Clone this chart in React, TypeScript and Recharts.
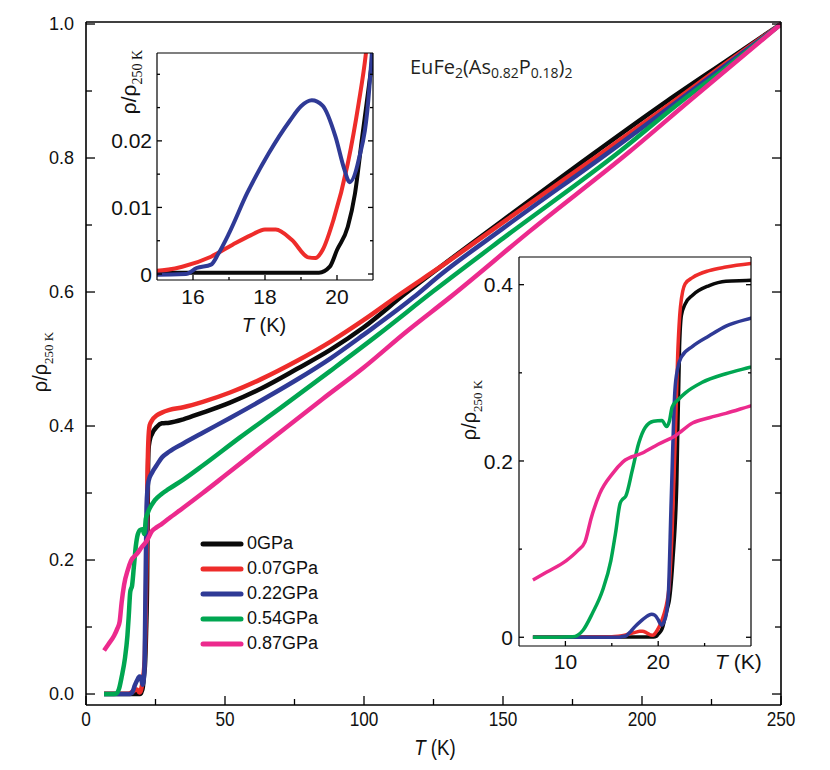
import { LineChart, Line, XAxis, YAxis, Legend } from 'recharts';

type Pt = [number, number];
type Side = 'left' | 'right' | 'top' | 'bottom';

// T (K), rho / rho(250 K)
const gpa0: Pt[] = [
  [6.5, 0.0002], [10, 0.0002], [15, 0.0002], [17, 0.0002], [19.5, 0.0002], [19.8, 0.0011],
  [20.0, 0.0036], [20.3, 0.0071], [20.5, 0.0121], [20.7, 0.0206], [21.0, 0.033], [21.2, 0.042],
  [21.6, 0.09], [22.0, 0.174], [22.3, 0.33], [22.5, 0.365], [22.9, 0.378], [23.7, 0.388],
  [25.5, 0.399], [27.3, 0.404], [30, 0.405], [35, 0.41], [42, 0.42], [51.8, 0.435], [63, 0.456],
  [75.8, 0.485], [88, 0.514], [99.8, 0.547], [115, 0.598], [127.3, 0.637], [150, 0.707],
  [183.7, 0.81], [209, 0.885], [230, 0.944], [250, 1.0],
];
const gpa007: Pt[] = [
  [6.5, 0.0003], [12, 0.0003], [15, 0.0005], [15.7, 0.0011], [16.5, 0.0026], [17.1, 0.0044],
  [17.6, 0.0058], [18.0, 0.0067], [18.3, 0.0067], [18.75, 0.0051], [19.2, 0.0025], [19.4, 0.0024],
  [19.6, 0.0036], [19.9, 0.0081], [20.3, 0.0166], [20.6, 0.0256], [20.8, 0.033], [21.2, 0.061],
  [21.5, 0.12], [21.8, 0.212], [22.1, 0.32], [22.4, 0.375], [22.9, 0.401], [23.7, 0.408],
  [25.5, 0.416], [27.3, 0.42], [30, 0.424], [35, 0.428], [42, 0.436], [51.8, 0.45], [63, 0.47],
  [75.8, 0.497], [88, 0.526], [99.8, 0.558], [114.1, 0.6], [127.3, 0.637], [150, 0.704],
  [185, 0.806], [210.6, 0.882], [230, 0.941], [250, 1.0],
];
const gpa022: Pt[] = [
  [6.5, 0], [15, -0.0001], [15.8, 0], [16.1, 0.0009], [16.5, 0.0014], [16.7, 0.003], [17.0, 0.0061],
  [17.5, 0.0121], [18.1, 0.0181], [18.7, 0.0231], [19.0, 0.0252], [19.3, 0.0261], [19.6, 0.0253],
  [19.96, 0.0206], [20.2, 0.0158], [20.35, 0.0138], [20.6, 0.0171], [20.9, 0.0281], [21.1, 0.05],
  [21.4, 0.155], [21.8, 0.28], [22.1, 0.305], [22.5, 0.318], [23.7, 0.33], [25.5, 0.342],
  [27.3, 0.353], [30, 0.362], [35, 0.374], [42, 0.39], [51.8, 0.412], [63, 0.438], [75.8, 0.469],
  [88, 0.501], [99.8, 0.536], [117.8, 0.592], [127.3, 0.625], [150, 0.695], [188.5, 0.81],
  [212, 0.882], [230, 0.938], [250, 1.0],
];
const gpa054: Pt[] = [
  [6.5, 0], [9, 0], [10.8, 0.0005], [11.9, 0.008], [12.9, 0.027], [14, 0.053], [14.9, 0.087],
  [15.4, 0.118], [15.9, 0.152], [16.2, 0.157], [16.5, 0.16], [17.2, 0.189], [17.9, 0.22],
  [18.6, 0.238], [19.5, 0.245], [20.4, 0.246], [20.9, 0.239], [21.2, 0.245], [21.5, 0.261],
  [22.2, 0.27], [22.9, 0.277], [24.7, 0.289], [27.3, 0.299], [29.8, 0.306], [35, 0.32],
  [42, 0.341], [55.4, 0.383], [70, 0.427], [87.8, 0.482], [105, 0.536], [124.9, 0.601],
  [150, 0.68], [192.1, 0.81], [214, 0.884], [230, 0.934], [250, 1.0],
];
const gpa087: Pt[] = [
  [6.5, 0.065], [8, 0.074], [10.1, 0.087], [11.3, 0.098], [12.1, 0.108], [12.8, 0.136],
  [13.7, 0.163], [15.1, 0.186], [16.2, 0.199], [18.3, 0.209], [20, 0.219], [21.9, 0.229],
  [23.7, 0.243], [25.5, 0.249], [27.3, 0.254], [29.8, 0.262], [35, 0.278], [42, 0.3], [50, 0.326],
  [67.4, 0.383], [85, 0.44], [99.8, 0.487], [115, 0.54], [130.9, 0.592], [160, 0.692],
  [195.7, 0.81], [217, 0.885], [250, 1.0],
];

const series = [
  { name: '0GPa', color: '#0a0a0a', pts: gpa0 },
  { name: '0.07GPa', color: '#ee2c2a', pts: gpa007 },
  { name: '0.22GPa', color: '#2f3a96', pts: gpa022 },
  { name: '0.54GPa', color: '#00a651', pts: gpa054 },
  { name: '0.87GPa', color: '#ec2a8d', pts: gpa087 },
];

const mainXTicks = [0, 25, 50, 75, 100, 125, 150, 175, 200, 225, 250];
const mainXMajor = [0, 50, 100, 150, 200, 250];
const mainYTicks = [0, 0.1, 0.2, 0.3, 0.4, 0.5, 0.6, 0.7, 0.8, 0.9, 1.0];
const mainYMajor = [0, 0.2, 0.4, 0.6, 0.8, 1.0];
const in1XTicks = [16, 17, 18, 19, 20];
const in1XMajor = [16, 18, 20];
const in1YTicks = [0, 0.005, 0.01, 0.015, 0.02, 0.025, 0.03];
const in1YMajor = [0, 0.01, 0.02];
const in2XTicks = [10, 15, 20, 25];
const in2XMajor = [10, 20];
const in2YTicks = [0, 0.1, 0.2, 0.3, 0.4];
const in2YMajor = [0, 0.2, 0.4];

const SANS = "'Liberation Sans', Arial, sans-serif";
const SERIF = "'Liberation Serif', 'Times New Roman', serif";
const TITLE = "'Open Sans', 'Noto Sans', sans-serif";
const INK = '#111';

const toRows = (pts: Pt[]) => pts.map(([t, v]) => ({ t, v }));

// tick marks point inwards; labels only on major ticks. squeeze < 1 gives a condensed face
function makeTick(side: Side, major: number[], len: number, minorLen: number, gap: number,
  fmt: ((v: number) => string) | null, fontSize = 16, squeeze = 1) {
  return (p: any) => {
    const v = p.payload.value as number;
    const c = p.payload.coordinate as number;
    const isMajor = major.some((m) => Math.abs(m - v) < 1e-9);
    const l = isMajor ? len : minorLen;
    const txt = fmt && isMajor ? fmt(v) : null;
    const ts = { fontSize, fontFamily: SANS, fill: INK };
    if (side === 'bottom') {
      const a = p.y - gap;
      return (
        <g>
          <line x1={c} x2={c} y1={a} y2={a - l} stroke="#000" strokeWidth={1.3} />
          {txt && (
            <text transform={`translate(${c} ${p.y}) scale(${squeeze} 1)`} dy="0.72em"
              textAnchor="middle" style={ts}>{txt}</text>
          )}
        </g>
      );
    }
    if (side === 'top') {
      const a = p.y + gap;
      return <line x1={c} x2={c} y1={a} y2={a + l} stroke="#000" strokeWidth={1.3} />;
    }
    if (side === 'left') {
      const a = p.x + gap;
      return (
        <g>
          <line x1={a} x2={a + l} y1={c} y2={c} stroke="#000" strokeWidth={1.3} />
          {txt && <text x={p.x} y={c} dy="0.36em" textAnchor="end" style={ts}>{txt}</text>}
        </g>
      );
    }
    const a = p.x - gap;
    return <line x1={a} x2={a - l} y1={c} y2={c} stroke="#000" strokeWidth={1.3} />;
  };
}

interface FrameCfg {
  xDomain: [number, number];
  yDomain: [number, number];
  xTicks: number[];
  xMajor: number[];
  yTicks: number[];
  yMajor: number[];
  len: number;
  minorLen: number;
  xGap: number;
  yGap: number;
  xFmt: ((v: number) => string) | null;
  yFmt: (v: number) => string;
  xFont: number;
  yFont: number;
  xSqueeze: number;
  stroke: number;
}

// axes are 1px thick (a zero-size axis is not drawn), chart margins are reduced by 1 to match
function frameAxes(f: FrameCfg) {
  const axisLine = { stroke: '#000', strokeWidth: f.stroke };
  return [
    <XAxis key="b" xAxisId="b" type="number" dataKey="t" domain={f.xDomain} allowDataOverflow
      ticks={f.xTicks} interval={0} height={1} tickSize={0} tickMargin={f.xGap} tickLine={false}
      axisLine={axisLine}
      tick={makeTick('bottom', f.xMajor, f.len, f.minorLen, f.xGap, f.xFmt, f.xFont, f.xSqueeze)} />,
    <XAxis key="t" xAxisId="t" orientation="top" type="number" domain={f.xDomain} allowDataOverflow
      ticks={f.xTicks} interval={0} height={1} tickSize={0} tickMargin={0} tickLine={false}
      axisLine={axisLine} tick={makeTick('top', f.xMajor, f.len, f.minorLen, 0, null)} />,
    <YAxis key="l" yAxisId="l" type="number" domain={f.yDomain} allowDataOverflow
      ticks={f.yTicks} interval={0} width={1} tickSize={0} tickMargin={f.yGap} tickLine={false}
      axisLine={axisLine}
      tick={makeTick('left', f.yMajor, f.len, f.minorLen, f.yGap, f.yFmt, f.yFont)} />,
    <YAxis key="r" yAxisId="r" orientation="right" type="number" domain={f.yDomain} allowDataOverflow
      ticks={f.yTicks} interval={0} width={1} tickSize={0} tickMargin={0} tickLine={false}
      axisLine={axisLine} tick={makeTick('right', f.yMajor, f.len, f.minorLen, 0, null)} />,
  ];
}

function curves(list: typeof series, width: number) {
  return list.map((s) => (
    <Line key={s.name} xAxisId="b" yAxisId="l" data={toRows(s.pts)} dataKey="v" name={s.name}
      type="monotone" stroke={s.color} strokeWidth={width} dot={false} activeDot={false}
      isAnimationActive={false} />
  ));
}

function RhoLabel({ x, y, size, sub }: { x: number; y: number; size: number; sub: number }) {
  return (
    <text x={x} y={y} transform={`rotate(-90 ${x} ${y})`} textAnchor="middle" dy="0.35em"
      style={{ fontFamily: SANS, fontSize: size, fill: INK }}>
      ρ/ρ<tspan dy={size * 0.28} style={{ fontFamily: SERIF, fontSize: sub }}>250 K</tspan>
    </text>
  );
}

const renderLegend = () => (
  <div style={{ display: 'flex', flexDirection: 'column' }}>
    {series.map((s) => (
      <div key={s.name} style={{ display: 'flex', alignItems: 'center', height: 25 }}>
        <svg width={44} height={10}>
          <line x1={3} x2={41} y1={5} y2={5} stroke={s.color} strokeWidth={5} strokeLinecap="round" />
        </svg>
        <span style={{ marginLeft: 3, fontSize: 18, fontFamily: SANS, color: INK }}>{s.name}</span>
      </div>
    ))}
  </div>
);

const layer = { position: 'absolute' as const, left: 0, top: 0 };

export default function App() {
  return (
    <div style={{ position: 'absolute', left: 0, top: 0, width: 830, height: 770, background: '#fff' }}>
      <div style={layer}>
        <LineChart width={830} height={770} margin={{ top: 21, right: 48, bottom: 64, left: 85 }}>
          {frameAxes({
            xDomain: [0, 250], yDomain: [-0.0164, 1.003], xTicks: mainXTicks, xMajor: mainXMajor,
            yTicks: mainYTicks, yMajor: mainYMajor, len: 9, minorLen: 6, xGap: 6, yGap: 12,
            xFmt: (v) => String(v), yFmt: (v) => v.toFixed(1), xFont: 21, yFont: 18,
            xSqueeze: 0.82, stroke: 1.6,
          })}
          {curves(series, 4.5)}
          <Legend layout="vertical" align="center" verticalAlign="middle" content={renderLegend}
            wrapperStyle={{ left: 200, top: 531, width: 160 }} />
          <RhoLabel x={40} y={362} size={20} sub={13} />
          <text transform="translate(435 755) scale(0.85 1)" textAnchor="middle"
            style={{ fontFamily: SANS, fontSize: 22, fill: INK }}>
            <tspan fontStyle="italic">T</tspan> (K)
          </text>
          <text x={410} y={74} style={{ fontFamily: TITLE, fontSize: 20, fill: '#231f20' }}>
            EuFe<tspan dy={4} fontSize={14}>2</tspan>
            <tspan dy={-4}>(As</tspan><tspan dy={4} fontSize={14}>0.82</tspan>
            <tspan dy={-4}>P</tspan><tspan dy={4} fontSize={14}>0.18</tspan>
            <tspan dy={-4}>)</tspan><tspan dy={4} fontSize={14}>2</tspan>
          </text>
        </LineChart>
      </div>
      <div style={layer}>
        <LineChart width={830} height={770} margin={{ top: 52, right: 456, bottom: 489, left: 156 }}>
          {frameAxes({
            xDomain: [15, 21], yDomain: [-0.0009, 0.0332], xTicks: in1XTicks, xMajor: in1XMajor,
            yTicks: in1YTicks, yMajor: in1YMajor, len: 5, minorLen: 3, xGap: 9, yGap: 5,
            xFmt: (v) => String(v), yFmt: (v) => (v === 0 ? '0' : v.toFixed(2)), xFont: 21, yFont: 21,
            xSqueeze: 1, stroke: 1.2,
          })}
          {curves(series.slice(0, 3), 4)}
          <RhoLabel x={129} y={82} size={21} sub={14} />
          <text x={264} y={332} textAnchor="middle" style={{ fontFamily: SANS, fontSize: 20, fill: INK }}>
            <tspan fontStyle="italic">T</tspan> (K)
          </text>
        </LineChart>
      </div>
      <div style={layer}>
        <LineChart width={830} height={770} margin={{ top: 256, right: 78, bottom: 123, left: 518 }}>
          {frameAxes({
            xDomain: [5, 30], yDomain: [-0.0099, 0.4314], xTicks: in2XTicks, xMajor: in2XMajor,
            yTicks: in2YTicks, yMajor: in2YMajor, len: 5, minorLen: 3, xGap: 8, yGap: 6,
            xFmt: (v) => String(v), yFmt: (v) => (v === 0 ? '0' : v.toFixed(1)), xFont: 21, yFont: 21,
            xSqueeze: 1, stroke: 1.2,
          })}
          {curves(series, 3.5)}
          <RhoLabel x={469} y={410} size={20} sub={13} />
          <text x={715} y={669} style={{ fontFamily: SANS, fontSize: 21, fill: INK }}>
            <tspan fontStyle="italic">T</tspan> (K)
          </text>
        </LineChart>
      </div>
    </div>
  );
}
